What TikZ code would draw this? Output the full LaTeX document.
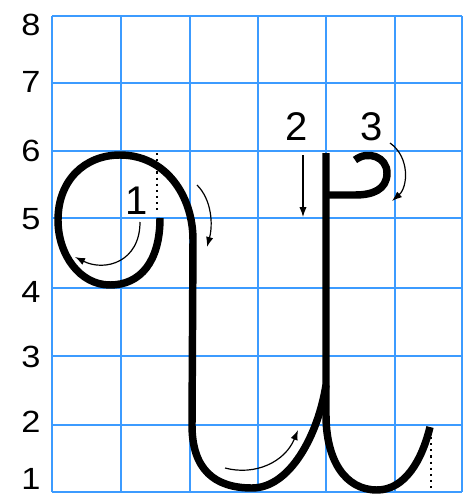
\documentclass[tikz,border=0pt]{standalone}
\usepackage{fontspec}
\setmainfont{Liberation Sans}
\usetikzlibrary{arrows.meta}
\definecolor{gridblue}{RGB}{60,155,255}
\begin{document}
\begin{tikzpicture}[x=0.75pt,y=-0.75pt,
  gridline/.style={draw=gridblue,line width=1.5pt},
  pen/.style={line width=5.6pt,line cap=butt,line join=round},
  hint/.style={line width=0.9pt,-{Latex[length=7.5pt,width=5.5pt]}},
  guide/.style={line width=1.6pt,dash pattern=on 1.6pt off 3pt},
  axislabel/.style={font=\fontsize{23}{23}\selectfont,inner sep=0pt},
  steplabel/.style={font=\fontsize{30}{30}\selectfont,inner sep=0pt}]
\useasboundingbox (0,0) rectangle (464,496);
\clip (0,0) rectangle (464,496);
% grid
\foreach \x in {52,121,190,258,326,395,462} \draw[gridline] (\x,16) -- (\x,492);
\foreach \y in {16,83,151,218,288,356,425,492} \draw[gridline] (52,\y) -- (462,\y);
% axis numbers
\node[axislabel] (n8) at (31,25) {\scalebox{1.12}[1]{8}};
\node[axislabel] (n7) at (31,82) {\scalebox{1.12}[1]{7}};
\node[axislabel] (n6) at (31,151) {\scalebox{1.12}[1]{6}};
\node[axislabel] (n5) at (31,219) {\scalebox{1.12}[1]{5}};
\node[axislabel] (n4) at (31,292) {\scalebox{1.12}[1]{4}};
\node[axislabel] (n3) at (31,357) {\scalebox{1.12}[1]{3}};
\node[axislabel] (n2) at (31,422) {\scalebox{1.12}[1]{2}};
\node[axislabel] (n1) at (31,479) {\scalebox{1.12}[1]{1}};
% stroke 1
\draw[pen] (160,218) .. controls (160,262) and (140,285) .. (110,285)
  .. controls (80,285) and (58,255) .. (58,220)
  .. controls (58,180) and (85,155) .. (120,155)
  .. controls (165,155) and (193,195) .. (193,240)
  -- (192,425)
  .. controls (192,470) and (215,488) .. (252,488)
  .. controls (290,488) and (318,435) .. (326,385);
% stroke 2
\draw[pen] (326,153) -- (326,415)
  .. controls (326,460) and (345,490) .. (377,490)
  .. controls (405,490) and (422,460) .. (430,427);
% stroke 3
\draw[pen] (355,160) .. controls (368,150) and (387,157) .. (387,173)
  .. controls (387,190) and (372,195) .. (355,195) -- (326,195);
% step labels
\node[steplabel] (s1) at (137,201) {1};
\node[steplabel] (s2) at (297,127) {2};
\node[steplabel] (s3) at (372,127) {3};
% hint arrows
\coordinate (a1s) at (140,222); \coordinate (a1e) at (75,257);
\draw[hint] (a1s) .. controls (140,262) and (105,272) .. (a1e);
\coordinate (a2s) at (303,155); \coordinate (a2e) at (303,217);
\draw[hint] (a2s) -- (a2e);
\coordinate (a3s) at (390,143); \coordinate (a3e) at (392,201);
\draw[hint] (a3s) .. controls (410,157) and (408,187) .. (a3e);
\coordinate (a4s) at (197,185); \coordinate (a4e) at (207,247);
\draw[hint] (a4s) .. controls (212,200) and (213,225) .. (a4e);
\coordinate (a5s) at (225,468); \coordinate (a5e) at (298,430);
\draw[hint] (a5s) .. controls (255,476) and (285,462) .. (a5e);
% dotted guides
\coordinate (g1s) at (157,153); \coordinate (g1e) at (157,214);
\draw[guide] (g1s) -- (g1e);
\coordinate (g2s) at (431,437); \coordinate (g2e) at (431,490);
\draw[guide] (g2s) -- (g2e);
\end{tikzpicture}
\end{document}
